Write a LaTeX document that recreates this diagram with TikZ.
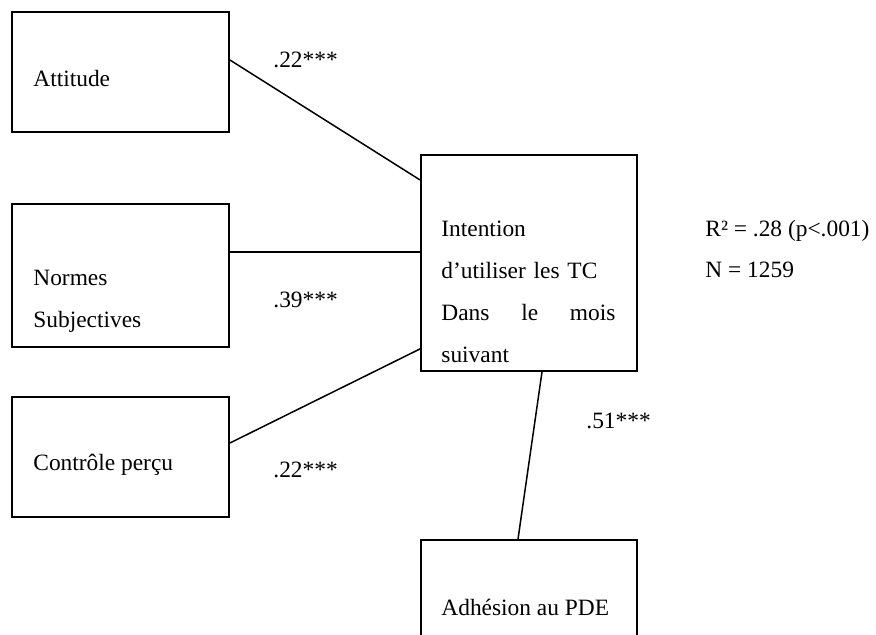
\documentclass[tikz,border=0pt]{standalone}
\usepackage{fontspec}
\setmainfont{Liberation Serif}
\begin{document}
\begin{tikzpicture}[x=0.5pt,y=-0.5pt,
    every node/.style={font=\fontsize{11.7}{21}\selectfont},
    box/.style={draw, line width=0.9pt, minimum width=108.5pt, inner sep=0pt},
    txt/.style={anchor=base west, inner sep=0pt, align=left},
    link/.style={line width=0.75pt}]
    \useasboundingbox (0,0) rectangle (876,635);
    \clip (0,0) rectangle (876,635);
    % boxes
    \node[box, minimum height=60pt] (att) at (120.5,72) {};
    \node[box, minimum height=71.5pt] (norm) at (120.5,275.5) {};
    \node[box, minimum height=60pt] (ctrl) at (120.5,457) {};
    \node[box, minimum width=108pt, minimum height=108pt] (int) at (529,263) {};
    \node[box, minimum width=108pt, minimum height=60pt] (adh) at (529,600) {};
    % box texts
    \node[txt] (attT) at (33,87) {Attitude};
    \node[txt] (normT) at (33,328) {Normes\\Subjectives};
    \node[txt] (ctrlT) at (33,470) {Contrôle perçu};
    \node[txt, text width=87pt] (intT) at (441,237)
      {Intention\\d'utiliser les TC\\\leavevmode\hbox to 87pt{Dans\hfill le\hfill mois}\\suivant};
    \node[txt] (adhT) at (441,615) {Adhésion au PDE};
    % coefficients
    \node[txt] (c1) at (273,68) {.22***};
    \node[txt] (c2) at (273,308) {.39***};
    \node[txt] (c3) at (273,477) {.22***};
    \node[txt] (c4) at (586,428) {.51***};
    \node[txt] (r2) at (705,237) {R² = .28 (p<.001)};
    \node[txt] (n) at (705,278) {N = 1259};
    % links
    \draw[link] ([yshift=6pt]att.east) -- ([yshift=41.5pt]int.west);
    \draw[link] ([yshift=11.75pt]norm.east) -- ([yshift=5.5pt]int.west);
    \draw[link] ([yshift=7pt]ctrl.east) -- ([yshift=11.5pt]int.south west);
    \draw[link] ([xshift=6.5pt]int.south) -- ([xshift=-5.5pt]adh.north);
  \end{tikzpicture}
\end{document}
